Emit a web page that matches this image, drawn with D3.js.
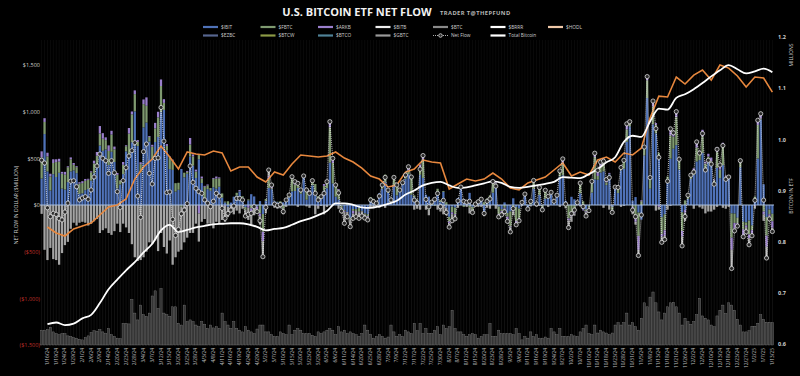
<!DOCTYPE html>
<html><head>
<meta charset="utf-8">
<title>U.S. Bitcoin ETF Net Flow</title>
<script src="https://d3js.org/d3.v7.min.js"></script>
<style>
  body { margin: 0; background: #000; }
  svg text { font-family: "Open Sans", "Lato", sans-serif; }
  .axis .domain { stroke: none; }
</style>
</head>
<body>
<svg id="chart" width="800" height="376"></svg>

<script>
// ---- data ($ million per trading day, 1/11/24 .. 1/13/25) ----

// market holidays, used to build the trading-day categories
const holidays = ["2024-01-15","2024-02-19","2024-03-29","2024-05-27","2024-06-19","2024-07-04",
                  "2024-09-02","2024-11-28","2024-12-25","2025-01-01","2025-01-09"];

const netFlow = [
  480, 450, -30, -125, -90, -100, -145, -160, -75, 20, 255, 260, 196, 54,                                   // jan
  75, 89, 61, 161, 300, 418, 546, 500, 475, 339, 475, 346, 143, -25, 261, 400, 525, 582, 668, 96,          // feb
  -132, 571, 653, 339, 225, 500, 505, 1045, 684, 133, 140, -154, -326, -262, -94, -54, 15, 418, 243, 179,  // mar
  143, 125, 55, 20, -18, 40, 125, 96, -36, -143, -90, -54, -11, 71, 71, 54, -118, -100, -89, -18, -71, -168, // apr
  -554, -25, 375, 214, 10, -5, 5, -71, 54, 107, 303, 250, 232, 161, 311, 161, 125, 261, 125, 54, 89, 125,   // may
  250, 893, 500, 214, 130, -65, -196, -125, -232, -143, -125, -143, -118, -140, -160, 54, 36, 18, 96,       // jun
  214, 296, 160, 54, 296, 214, 160, 239, 321, 410, 300, 53, 20, 384, 530, 60, -20, 31, 60, 124, -18, 50,   // jul
  -80, -237, -168, -148, 45, 192, 40, 30, 40, -80, 10, 35, 62, -90, 40, 65, 252, 202, -127, -105, -72, -175, // aug
  -288, -38, -212, -169, 28, 117, -43, 39, 263, 12, 187, -52, 158, 92, 136, 40, 105, 365, 494, 10,         // sep
  -242, -92, -54, 25, 235, -18, -118, -60, 253, 555, 371, 458, 470, 273, 294, -79, 192, 188, 402, 479, 870, 893, -54, // oct
  -125, -541, -107, 621, 1376, 294, 1114, 818, 510, -400, -370, 255, 816, 773, 1001, 490, -438, -123, 105, 320, // nov
  353, 676, 556, 766, 375, 479, 438, 223, 597, 428, 637, 275, 300, -680, -277, -226, 475, -340, -287, -426, -330, // dec
  50, 908, 978, 52, -568, -149, -284                                                                        // jan 25
];

const gbtc = [
  -95, -480, -590, -460, -580, -590, -640, -515, -430, -395, -255, -190, -220, -190,
  -180, -190, -220, -200, -175, -150, -300, -270, -250, -300, -320, -280, -200, -290, -200, -240, -300, -420, -560, -600,
  -590, -560, -500, -400, -420, -380, -494, -300, -450, -520, -380, -640, -560, -500, -460, -400, -350, -300, -299, -200,
  -302, -180, -150, -200, -200, -250, -180, -200, -160, -170, -110, -80, -100, -60, -90, -40, -66, -130, -140, -80, -25, -90,
  -167, -50, 63, 4, -30, -40, -20, -60, -20, 0, 27, 0, -20, 0, 0, -15, -30, 0, -100, -30, -10, -100,
  -20, 0, 0, 15, -40, -40, -120, -60, -80, -50, -60, -60, -50, -40, -30, -30, -30, -10, -30,
  0, -30, 0, 25, 0, 0, 0, 0, 0, 0, 0, -50, -40, -50, 0, -40, -60, 0, 0, -50, -70, -100,
  -80, -40, -70, -40, -30, 0, 0, -20, -60, -20, -20, -20, -20, -30, -30, -40, 0, -40, -20, -30, -60, -20,
  -50, -40, -20, -20, -10, 0, 0, -15, 0, -10, -10, -30, 0, -20, 0, 0, 0, -20, 0, -15,
  -80, -60, -25, 0, -15, 0, -40, -20, 0, 0, 0, 0, -30, 0, -50, 0, 0, 0, -20, -10, 0, 0, -50,
  -30, -60, 0, 0, 0, 0, 0, -60, -30, -60, -40, -50, -10, 0, 0, 0, -100, -90, 0, 0,
  -40, 0, -25, -40, -90, -70, -70, -50, -20, 0, -30, -40, -20, -200, -25, -10, 0, -20, -50, -70, -30,
  -30, 0, 0, -70, -120, -30, -40
];

const fbtc = [
  227, 130, 160, 150, 120, 160, 120, 160, 160, 160, 130, 60, 65, 110,
  110, 100, 100, 90, 105, 130, 130, 130, 100, 150, 185, 135, 145, 40, 100, 55, 245, 300, 185, 45,
  90, 250, 180, 50, 130, 145, 210, 280, 75, 50, 130, 100, 90, 75, -20, 50, 20, 130, 100, 70,
  45, 50, 120, 40, 30, 90, 110, 90, 45, 10, 40, 0, 0, 30, 5, 15, -30, 10, -35, 0, 0, -90,
  -190, 20, 100, 10, 0, 5, 25, -40, 40, 25, 130, 70, 50, 20, 0, 120, 20, 40, 120, 60, 35, 50,
  80, 380, 220, 110, 100, -20, -10, 10, -15, -20, -20, -40, -5, -10, -20, 10, 20, 10, 0,
  30, 80, 20, 10, 70, 100, 10, 20, 20, 40, 180, 20, 10, 80, 200, -10, -50, 40, -10, 60, 20, 10,
  30, -50, -60, -70, 0, 10, -20, 10, -30, -40, 5, 10, 20, 30, 10, 25, 100, 30, -80, -20, -30, -40,
  -160, -60, -150, -100, 20, 10, -10, 50, 70, 30, 80, -20, 80, 20, 10, 20, 0, 60, 125, -20,
  -144, -100, -80, 10, 105, 40, -20, -20, 100, 240, 40, 70, 110, 30, 5, -40, 0, 50, 30, 80, 133, 30, -20,
  -150, -250, 40, 70, 190, 100, 190, 90, 40, -180, -170, 50, 250, 130, 300, 100, -200, 50, 40, 20,
  50, 150, 80, 180, 60, 50, 40, 60, 170, 90, 220, 10, 10, -260, -100, -60, 50, -80, -30, -150, -50,
  30, 360, 10, -70, -200, -50, -80
];

const arkb = [
  65, 40, 40, 30, 40, 30, 30, 20, 30, 10, 20, 20, 10, 15,
  20, 20, 10, 10, 30, 40, 80, 60, 30, 60, 40, 30, 20, 5, 30, 10, 60, 30, 40, 20,
  20, 50, 90, 10, 20, 60, 60, 70, 40, 20, 5, 10, 0, 0, 0, 0, 10, 70, 20, 20,
  -90, 20, 10, 10, 0, 10, 20, 10, 0, -10, 0, 0, 0, 0, 10, 0, 0, -30, -30, -30, -30, -30,
  -100, -40, 30, 30, 0, 0, -15, 0, 0, 0, 0, 30, 20, 20, 20, 0, 10, 10, 0, -10, 0, 20,
  10, 60, 50, 0, 10, 0, -10, 0, 0, -30, 0, -10, 0, 0, -10, 0, 0, 0, 0,
  10, 0, 10, 0, 20, 10, 10, 0, 20, 40, 10, 0, 0, 30, 40, 0, 0, 0, 10, 0, 0, 0,
  0, -20, -20, -10, 0, 10, 0, 0, 0, 0, 0, 0, 0, 0, 0, 0, 20, 10, -10, -10, -10, -30,
  -10, -10, -20, -10, 0, 10, 0, 0, 20, 0, 10, 0, 10, 0, 10, 0, 0, 20, 50, 0,
  -20, -20, -10, 0, 20, -10, -10, -10, 20, 40, 60, 40, 30, 30, 10, -20, 10, 10, 20, 20, 60, 20, -30,
  -30, -150, 10, 20, 40, 20, 60, 20, -20, -30, -60, 0, 80, 40, 60, 10, -60, -30, 0, 20,
  20, 60, 20, 70, 20, 30, 40, 10, 50, 50, 20, 10, 0, -130, -60, -20, 20, -60, -20, -40, -30,
  -10, 50, 50, -30, -120, -20, -70
];

// daily ETF trading volume ($ billion), drawn as the grey bars at the bottom
const volume = [
  2.6, 2.6, 2.7, 3.1, 2.3, 2.0, 1.8, 2.0, 2.0, 1.6, 1.5, 1.3, 1.2, 1.0,
  0.9, 1.3, 1.6, 2.2, 2.5, 2.4, 2.7, 2.3, 2.0, 2.9, 1.8, 1.5, 1.2, 1.1, 3.8, 3.8, 3.7, 8.0, 5.6, 4.4,
  7.0, 5.3, 5.0, 5.6, 8.6, 9.5, 6.4, 9.9, 5.6, 5.3, 5.0, 6.7, 6.7, 3.8, 3.5, 7.0, 4.1, 4.4, 4.1, 3.5,
  3.2, 4.1, 3.6, 2.9, 3.5, 3.0, 3.2, 2.9, 5.6, 4.1, 3.5, 2.9, 4.1, 2.9, 2.6, 2.3, 3.2, 2.6, 2.3, 2.0, 2.8, 3.5,
  3.5, 2.3, 2.3, 1.8, 1.5, 1.5, 2.3, 2.0, 1.8, 3.5, 1.8, 2.6, 2.9, 2.6, 2.0, 2.0, 2.0, 1.7, 1.5, 2.3, 2.0, 2.3,
  2.6, 2.9, 2.6, 1.8, 3.2, 2.3, 2.6, 2.0, 2.3, 2.0, 1.8, 1.5, 2.0, 3.5, 2.6, 1.9, 1.2, 1.5, 1.8,
  1.5, 1.2, 1.4, 3.5, 2.3, 1.5, 1.8, 1.5, 2.6, 2.3, 2.0, 3.8, 2.5, 3.8, 2.0, 2.9, 2.0, 2.0, 2.6, 3.2, 1.8, 3.5,
  2.9, 3.2, 6.1, 2.9, 2.3, 2.3, 1.8, 1.5, 1.8, 2.0, 1.8, 1.2, 1.5, 1.8, 1.8, 3.8, 1.5, 1.5, 2.6, 2.0, 2.0, 2.0,
  2.0, 1.8, 2.9, 2.0, 0.9, 1.5, 1.2, 2.3, 1.5, 1.8, 1.2, 1.2, 1.4, 1.2, 2.9, 2.3, 1.8, 2.9, 1.5, 1.5,
  1.5, 1.8, 1.6, 1.5, 2.3, 2.9, 3.5, 2.0, 1.8, 3.5, 2.1, 2.6, 2.3, 2.1, 1.8, 2.1, 3.5, 3.9, 3.5, 3.9, 5.6, 3.5, 3.9,
  3.2, 2.6, 4.7, 7.4, 6.7, 8.4, 9.3, 7.4, 5.8, 4.4, 5.6, 6.7, 7.4, 7.5, 6.7, 5.6, 3.5, 4.7, 4.1, 3.6,
  4.1, 5.3, 8.2, 5.1, 4.7, 4.4, 3.5, 3.2, 5.1, 6.1, 7.0, 5.5, 7.4, 7.0, 6.1, 4.5, 3.5, 2.3, 2.3, 2.5, 3.3,
  3.3, 3.8, 5.3, 4.5, 4.0, 4.0, 3.9
];

// lines read every third trading day (the labelled dates)
const totalBitcoin = [ // millions of BTC held
  0.639, 0.642, 0.637, 0.640, 0.650, 0.657, 0.680, 0.707, 0.726, 0.744, 0.760, 0.779, 0.796, 0.822,
  0.833, 0.819, 0.823, 0.828, 0.831, 0.834, 0.835, 0.836, 0.836, 0.834, 0.829, 0.822, 0.825, 0.827,
  0.833, 0.840, 0.845, 0.852, 0.860, 0.875, 0.875, 0.872, 0.867, 0.866, 0.869, 0.874, 0.880, 0.892,
  0.900, 0.910, 0.915, 0.917, 0.910, 0.905, 0.906, 0.910, 0.914, 0.918, 0.915, 0.907, 0.905, 0.907,
  0.910, 0.913, 0.917, 0.926, 0.925, 0.924, 0.932, 0.942, 0.955, 0.965, 0.995, 1.007, 1.005, 1.035,
  1.060, 1.058, 1.081, 1.088, 1.098, 1.110, 1.123, 1.135, 1.145, 1.137, 1.129, 1.133, 1.138, 1.131
];
const hodlLine = [ // on the left ($ million) axis
  -236, -300, -332, -257, -225, -193, -107, -21, 0, 64, 278, 407, 493, 632,
  514, 386, 568, 546, 536, 578, 557, 364, 407, 407, 300, 246, 353, 321,
  439, 536, 525, 514, 525, 568, 503, 461, 396, 311, 278, 193, 214, 353,
  386, 482, 461, 450, 171, 225, 278, 257, 278, 343, 278, 182, 161, 236,
  268, 300, 375, 450, 311, 353, 321, 482, 514, 461, 557, 536, 610, 932,
  1167, 1157, 1371, 1296, 1392, 1446, 1339, 1500, 1467, 1382, 1264, 1371, 1360, 1210
];

const flowTicks = [-1500, -1000, -500, 0, 500, 1000, 1500];
const btcTicks = [0.6, 0.7, 0.8, 0.9, 1.0, 1.1, 1.2];

const legendRow1 = ["$IBIT", "$FBTC", "$ARKB", "$BITB", "$BTC", "$BRRR", "$HODL"];
const legendRow2 = ["$EZBC", "$BTCW", "$BTCO", "$GBTC", "Net Flow", "Total Bitcoin"];

// ---- trading-day categories ----
const fmtDay = d3.timeFormat("%-m/%-d/%y");
const iso = d3.timeFormat("%Y-%m-%d");
const tradingDays = d3.timeDay.range(new Date(2024, 0, 11), new Date(2025, 0, 14))
  .filter(d => d.getDay() !== 0 && d.getDay() !== 6 && !holidays.includes(iso(d)))
  .map(fmtDay);
const tickDates = tradingDays.filter((d, i) => i % 3 === 2);

const colors = {
  "$IBIT": "#4f72b8", "$EZBC": "#56658f", "$FBTC": "#7f9a70", "$BTCW": "#8c9a45",
  "$ARKB": "#9a7fcc", "$BTCO": "#4f8297", "$BITB": "#eeeeee", "$GBTC": "#9a9a9a",
  "$BTC": "#8a8a8a", "$BRRR": "#ffffff", "$HODL": "#efc8a8", "Net Flow": "#ffffff",
  "Total Bitcoin": "#ffffff"
};

const days = tradingDays.map((date, i) => ({
  date: date,
  net: netFlow[i],
  gbtc: gbtc[i],
  fbtc: fbtc[i],
  arkb: arkb[i],
  ibit: netFlow[i] - gbtc[i] - fbtc[i] - arkb[i],
  vol: volume[i]
}));

// ---- layout ----
const svg = d3.select("svg#chart");
svg.append("rect").attr("width", 800).attr("height", 376).attr("fill", "#000");

const x = d3.scaleBand().domain(tradingDays).range([40.5, 773.5]).paddingInner(0.22);
const xc = d => x(d) + x.bandwidth() / 2;
const y = d3.scaleLinear().domain([-1500, 1500]).range([345, 65]);
const y2 = d3.scaleLinear().domain([0.6, 1.2]).range([344, 37]);
const yVol = d3.scaleLinear().domain([0, 10]).range([345, 288]);

// faint day stripes, a little stronger under the zero line
const stripes = svg.append("g");
stripes.selectAll("rect.up").data(tradingDays).join("rect").attr("class", "up")
   .attr("x", d => xc(d) - 0.4).attr("width", 0.8)
   .attr("y", 40).attr("height", y(0) - 40)
   .attr("fill", "#0c0c0c");
stripes.selectAll("rect.down").data(tradingDays).join("rect").attr("class", "down")
   .attr("x", d => xc(d) - 0.4).attr("width", 0.8)
   .attr("y", y(0)).attr("height", 345 - y(0))
   .attr("fill", "#151515");

// volume bars
svg.append("g").selectAll("rect").data(days).join("rect")
   .attr("x", d => x(d.date)).attr("width", x.bandwidth())
   .attr("y", d => yVol(d.vol)).attr("height", d => yVol(0) - yVol(d.vol))
   .attr("fill", "#343434").attr("stroke", "#7c7c7c").attr("stroke-width", 0.4);

// stacked flows
const keys = ["ibit", "fbtc", "arkb", "gbtc"];
const keyColor = { ibit: colors["$IBIT"], fbtc: colors["$FBTC"], arkb: colors["$ARKB"], gbtc: "#a4a4a4" };
const stacked = d3.stack().keys(keys).offset(d3.stackOffsetDiverging)(days);

svg.append("g").selectAll("g").data(stacked).join("g")
   .attr("fill", s => keyColor[s.key])
   .selectAll("rect").data(s => s).join("rect")
   .attr("x", d => x(d.data.date)).attr("width", x.bandwidth())
   .attr("y", d => y(Math.max(d[0], d[1])))
   .attr("height", d => Math.abs(y(d[0]) - y(d[1])));

// zero line
svg.append("line")
   .attr("x1", 40).attr("x2", 774).attr("y1", y(0)).attr("y2", y(0))
   .attr("stroke", "#a9bedc").attr("stroke-width", 1);

// orange line
const tickLine = (scale) => d3.line().x((v, i) => xc(tickDates[i])).y(v => scale(v)).curve(d3.curveLinear);
svg.append("path").datum(hodlLine)
   .attr("d", tickLine(y))
   .attr("fill", "none").attr("stroke", "#e8883e").attr("stroke-width", 1.6);

// total bitcoin
svg.append("path").datum(totalBitcoin)
   .attr("d", tickLine(y2).curve(d3.curveMonotoneX))
   .attr("fill", "none").attr("stroke", "#ffffff").attr("stroke-width", 1.8);

// net flow, dotted with open markers
svg.append("path").datum(days)
   .attr("d", d3.line().x(d => xc(d.date)).y(d => y(d.net)))
   .attr("fill", "none").attr("stroke", "#e8e8e8").attr("stroke-width", 0.8)
   .attr("stroke-dasharray", "1,1");
svg.append("g").selectAll("circle").data(days).join("circle")
   .attr("cx", d => xc(d.date)).attr("cy", d => y(d.net)).attr("r", 2.1)
   .attr("fill", "#2a2a2a").attr("stroke", "#f0f0f0").attr("stroke-width", 0.7);

// ---- axes ----
const dollar = v => v === 0 ? "$0" : (v < 0 ? "($" + d3.format(",")(-v) + ")" : "$" + d3.format(",")(v));
const leftAxis = svg.append("g").attr("class", "axis")
   .attr("transform", "translate(40,0)")
   .call(d3.axisLeft(y).tickValues(flowTicks).tickSize(0).tickPadding(0).tickFormat(dollar));
leftAxis.selectAll("text")
   .attr("font-size", 5.5)
   .attr("fill", d => d < 0 ? "#c0302a" : "#cfcfcf");

const rightAxis = svg.append("g").attr("class", "axis")
   .attr("transform", "translate(778,0)")
   .call(d3.axisRight(y2).tickValues(btcTicks).tickSize(0).tickPadding(0).tickFormat(d3.format(".1f")));
rightAxis.selectAll("text").attr("font-size", 5.5).attr("font-weight", "bold").attr("fill", "#cfcfcf");

const bottomAxis = svg.append("g").attr("class", "axis")
   .attr("transform", "translate(0,348)")
   .call(d3.axisBottom(x).tickValues(tickDates).tickSize(0).tickPadding(0));
bottomAxis.selectAll("text")
   .attr("font-size", 4.8).attr("fill", "#bdbdbd")
   .attr("transform", "rotate(-90)")
   .attr("text-anchor", "end").attr("dx", 0).attr("dy", "0.32em").attr("x", 0).attr("y", 0);

// axis titles
svg.append("text").attr("transform", "translate(18,205) rotate(-90)")
   .attr("text-anchor", "middle").attr("font-size", 5).attr("fill", "#cfcfcf")
   .text("NET FLOW IN DOLLAR ($MILLION)");
svg.append("text").attr("transform", "translate(793,196) rotate(-90)")
   .attr("text-anchor", "middle").attr("font-size", 5).attr("fill", "#cfcfcf")
   .text("BITCOIN IN ETF");
svg.append("text").attr("transform", "translate(793,55) rotate(-90)")
   .attr("text-anchor", "middle").attr("font-size", 5).attr("fill", "#cfcfcf")
   .text("MILLIONS");

// ---- title & legend ----
svg.append("text").attr("x", 357).attr("y", 16).attr("text-anchor", "middle")
   .attr("font-family", "Lato").attr("font-weight", "bold").attr("font-size", 11)
   .attr("fill", "#f2f2f2").text("U.S. BITCOIN ETF NET FLOW");
svg.append("text").attr("x", 440).attr("y", 15)
   .attr("font-family", "Lato").attr("font-weight", "bold").attr("font-size", 5.8)
   .attr("letter-spacing", 0.4).attr("fill", "#b5b5b5").text("TRADER T@THEPFUND");

const legend = svg.append("g");
[legendRow1, legendRow2].forEach((row, r) => {
  row.forEach((name, c) => {
    const gx = 203 + c * 57.5, gy = 27 + r * 8.5;
    const g = legend.append("g").attr("transform", "translate(" + gx + "," + gy + ")");
    if (name === "Net Flow") {
      g.append("line").attr("x1", 0).attr("x2", 15).attr("stroke", "#ddd")
       .attr("stroke-width", 0.8).attr("stroke-dasharray", "1,1");
      g.append("circle").attr("cx", 7.5).attr("r", 1.8)
       .attr("fill", "#2a2a2a").attr("stroke", "#f0f0f0").attr("stroke-width", 0.7);
    } else {
      g.append("line").attr("x1", 0).attr("x2", 15).attr("stroke", colors[name]).attr("stroke-width", 2.2);
    }
    g.append("text").attr("x", 18).attr("dy", "0.35em")
     .attr("font-size", 4.8).attr("fill", "#cfcfcf").text(name);
  });
});
</script>
</body>
</html>
